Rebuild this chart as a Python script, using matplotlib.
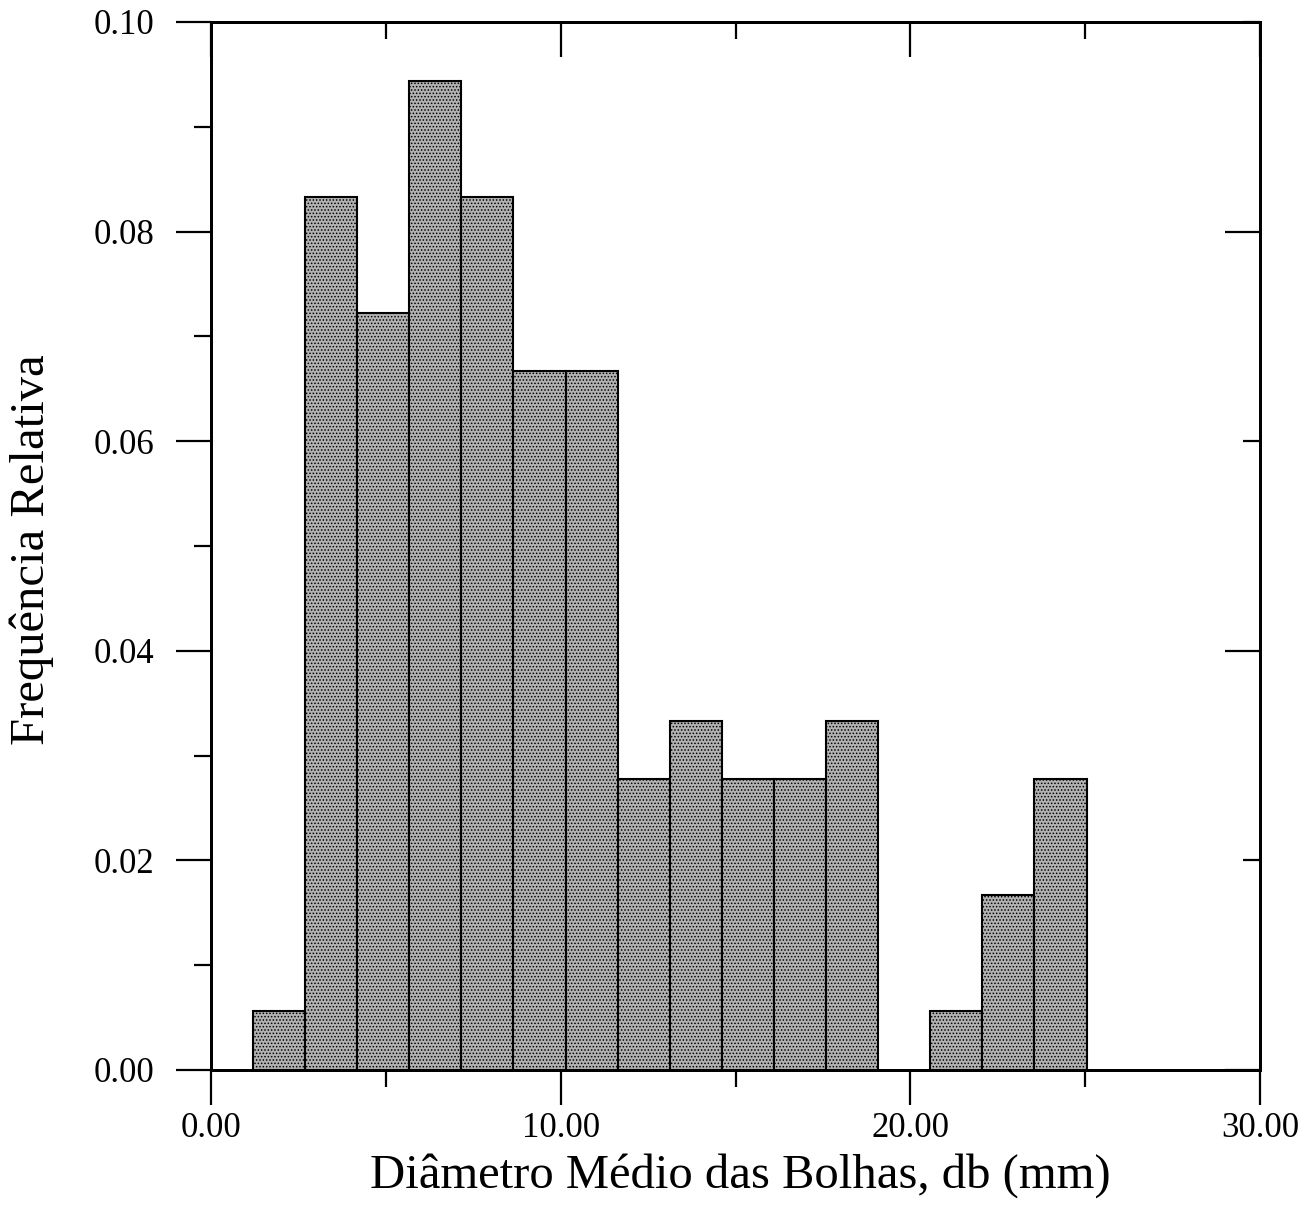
import matplotlib
matplotlib.use("Agg")
import matplotlib.pyplot as plt
import numpy as np
from matplotlib.ticker import MultipleLocator, FormatStrFormatter

# ---- data ----
bin_start = 1.2
bin_width = 1.49
rel_freq = [0.0056, 0.0833, 0.0722, 0.0944, 0.0833, 0.0667, 0.0667, 0.0278,
            0.0333, 0.0278, 0.0278, 0.0333, 0.0, 0.0056, 0.0167, 0.0278]
x_ticks = [0, 10, 20, 30]
y_ticks = [0.00, 0.02, 0.04, 0.06, 0.08, 0.10]
x_label = "Diâmetro Médio das Bolhas, db (mm)"
y_label = "Frequência Relativa"

plt.rcParams['font.family'] = ['Liberation Serif', 'DejaVu Serif']
plt.rcParams['hatch.linewidth'] = 0.7

fig = plt.figure(figsize=(13.05, 12.10), dpi=100)
W, H = 1305, 1210
ax = fig.add_axes([211 / W, 1 - 1070 / H, (1260 - 211) / W, (1070 - 22) / H])

lefts = bin_start + bin_width * np.arange(len(rel_freq))
heights = np.array(rel_freq)
mask = heights > 0
ax.bar(lefts[mask], heights[mask], width=bin_width, align='edge',
       facecolor='#b2b2b2', edgecolor='black', linewidth=1.5, hatch='.....')

ax.set_xlim(0, 30)
ax.set_ylim(0, 0.10)

for s in ax.spines.values():
    s.set_linewidth(2.0)

# x axis: bottom outward, top inward
ax.xaxis.set_major_locator(MultipleLocator(10))
ax.xaxis.set_minor_locator(MultipleLocator(5))
ax.xaxis.set_major_formatter(FormatStrFormatter('%.2f'))
ax.tick_params(axis='x', which='major', direction='out', length=25, width=1.6,
               labelsize=25, pad=5, bottom=True, top=False)
ax.tick_params(axis='x', which='minor', direction='out', length=12, width=1.6,
               bottom=True, top=False)

# y axis: left outward
ax.yaxis.set_major_locator(MultipleLocator(0.02))
ax.yaxis.set_minor_locator(MultipleLocator(0.01))
ax.yaxis.set_major_formatter(FormatStrFormatter('%.2f'))
ax.tick_params(axis='y', which='major', direction='out', length=25, width=1.6,
               labelsize=25, pad=16, left=True, right=False)
ax.tick_params(axis='y', which='minor', direction='out', length=12, width=1.6,
               left=True, right=False)

# twin axes for inward ticks on top and right
axt = ax.twiny()
axt.set_xlim(0, 30)
axt.xaxis.set_major_locator(MultipleLocator(10))
axt.xaxis.set_minor_locator(MultipleLocator(5))
axt.tick_params(axis='x', which='major', direction='in', length=25, width=1.6,
                labeltop=False, top=True)
axt.tick_params(axis='x', which='minor', direction='in', length=12, width=1.6, top=True)

axr = ax.twinx()
axr.set_ylim(0, 0.10)
axr.yaxis.set_major_locator(MultipleLocator(0.04))
axr.yaxis.set_minor_locator(MultipleLocator(0.02))
axr.tick_params(axis='y', which='major', direction='in', length=25, width=1.6,
                labelright=False, right=True)
axr.tick_params(axis='y', which='minor', direction='in', length=12, width=1.6, right=True)
for a in (axt, axr):
    for s in a.spines.values():
        s.set_linewidth(2.0)

fig.text(740 / W, 1 - 1176 / H, x_label, fontsize=35, ha='center', va='center')
fig.text(32 / W, 1 - 550 / H, y_label, fontsize=35, ha='center', va='center',
         rotation=90)

fig.savefig("out.png", dpi=100, facecolor='white')
